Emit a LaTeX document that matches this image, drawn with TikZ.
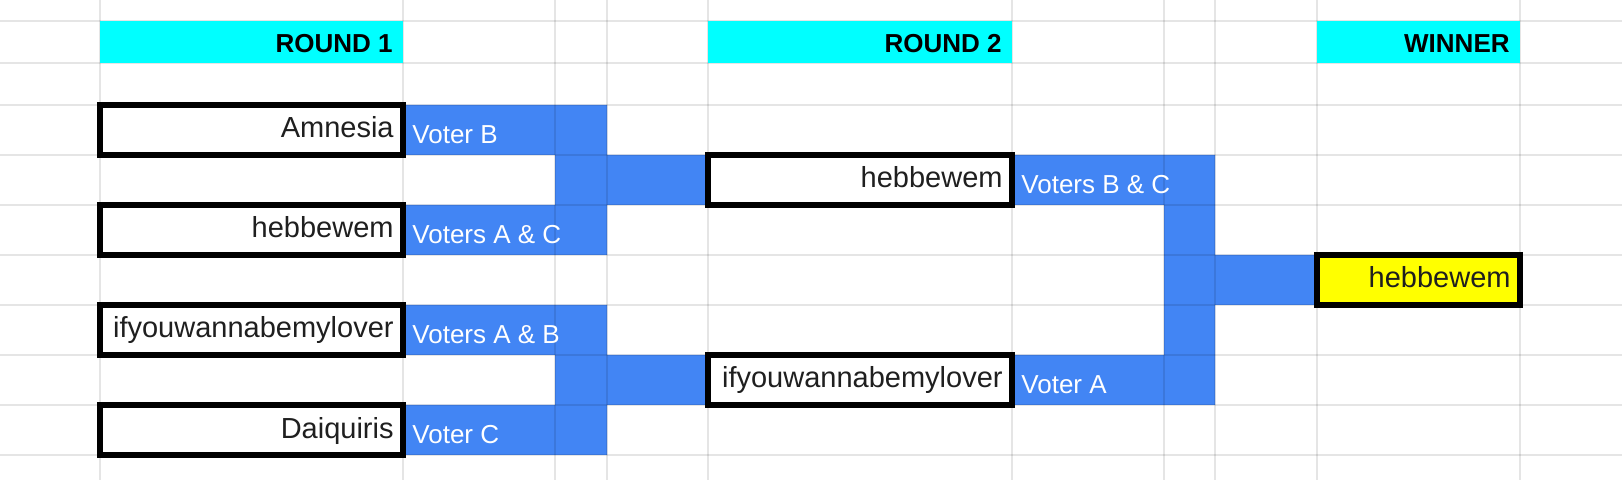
\documentclass[tikz,border=0pt]{standalone}
\usepackage{fontspec}
\setmainfont{Liberation Sans}
\usetikzlibrary{positioning,backgrounds}
\definecolor{headcyan}{HTML}{00FFFF}
\definecolor{bracketblue}{HTML}{4285F4}
\definecolor{winyellow}{HTML}{FFFF00}
\definecolor{inktext}{HTML}{1F1F1F}
\tikzset{
  headcell/.style={fill=headcyan, inner sep=0pt, outer sep=0pt, minimum width=151.5pt, minimum height=21pt},
  namebox/.style={draw=black, line width=2.75pt, fill=white, inner sep=0pt, outer sep=0pt, minimum width=151.5pt, minimum height=25pt},
  winbox/.style={namebox, fill=winyellow, minimum width=101.5pt},
  headtext/.style={anchor=base east, inner sep=0pt, font=\bfseries\fontsize{13}{15}\selectfont},
  nametext/.style={anchor=base east, inner sep=0pt, text=inktext, font=\fontsize{14.5}{17}\selectfont},
  votertext/.style={anchor=base west, inner sep=0pt, text=white, font=\fontsize{13}{15}\selectfont},
  bracket/.style={fill=bracketblue},
  gridline/.style={black, opacity=0.1, line width=0.6pt}
}
\begin{document}
\begin{tikzpicture}[x=0.5pt, y=-0.5pt]
\useasboundingbox (0,0) rectangle (1622,480);
% en-tetes
\node [headcell] (h1) at (251.5,42) {};
\node [headcell, minimum width=152pt] (h2) at (860,42) {};
\node [headcell, minimum width=101.5pt] (h3) at (1418.5,42) {};
\node [headtext] (h1t) at ([shift={(-10,-10.5)}]h1.south east) {ROUND 1};
\node [headtext] (h2t) at ([shift={(-10,-10.5)}]h2.south east) {ROUND 2};
\node [headtext] (h3t) at ([shift={(-10,-10.5)}]h3.south east) {WINNER};
% cases du tableau
\node [namebox] (r1a) at (251.5,130) {};
\node [namebox] (r1b) at (251.5,230) {};
\node [namebox] (r1c) at (251.5,330) {};
\node [namebox] (r1d) at (251.5,430) {};
\node [namebox, minimum width=152pt] (r2a) at (860,180) {};
\node [namebox, minimum width=152pt] (r2b) at (860,380) {};
\node [winbox] (win) at (1418.5,280) {};
% titres
\node [nametext] (t1a) at ([shift={(-9,-17)}]r1a.south east) {Amnesia};
\node [nametext] (t1b) at ([shift={(-9,-17)}]r1b.south east) {hebbewem};
\node [nametext] (t1c) at ([shift={(-9,-17)}]r1c.south east) {ifyouwannabemylover};
\node [nametext] (t1d) at ([shift={(-9,-17)}]r1d.south east) {Daiquiris};
\node [nametext] (t2a) at ([shift={(-9,-17)}]r2a.south east) {hebbewem};
\node [nametext] (t2b) at ([shift={(-9,-17)}]r2b.south east) {ifyouwannabemylover};
\node [nametext] (twin) at ([shift={(-9,-17)}]win.south east) {hebbewem};
% votes
\node [votertext] (v1a) at ([shift={(9,-11.5)}]r1a.south east) {Voter B};
\node [votertext] (v1b) at ([shift={(9,-11.5)}]r1b.south east) {Voters A \& C};
\node [votertext] (v1c) at ([shift={(9,-11.5)}]r1c.south east) {Voters A \& B};
\node [votertext] (v1d) at ([shift={(9,-11.5)}]r1d.south east) {Voter C};
\node [votertext] (v2a) at ([shift={(9,-11.5)}]r2a.south east) {Voters B \& C};
\node [votertext] (v2b) at ([shift={(9,-11.5)}]r2b.south east) {Voter A};
% fond : crochets et grille
\begin{scope}[on background layer]
\fill [white] (0,0) rectangle (1622,480);
\fill [bracket] (r1a.north east) -- ++(204,0) |- (r2a.north west) -- (r2a.south west) -| ++(-101,50) -- (r1b.south east) -- (r1b.north east) -- ++(152,0) |- (r1a.south east) -- cycle;
\fill [bracket] (r1c.north east) -- ++(204,0) |- (r2b.north west) -- (r2b.south west) -| ++(-101,50) -- (r1d.south east) -- (r1d.north east) -- ++(152,0) |- (r1c.south east) -- cycle;
\fill [bracket] (r2a.north east) -- ++(203,0) |- (win.north west) -- (win.south west) -| ++(-102,100) -- (r2b.south east) -- (r2b.north east) -- ++(152,0) |- (r2a.south east) -- cycle;
\foreach \gx in {100,403,555,607,708,1012,1164,1215,1317,1520}
  \draw [gridline] (\gx,0) -- (\gx,480);
\foreach \gy in {21,63,105,155,205,255,305,355,405,455}
  \draw [gridline] (0,\gy) -- (1622,\gy);
\end{scope}
\end{tikzpicture}
\end{document}
